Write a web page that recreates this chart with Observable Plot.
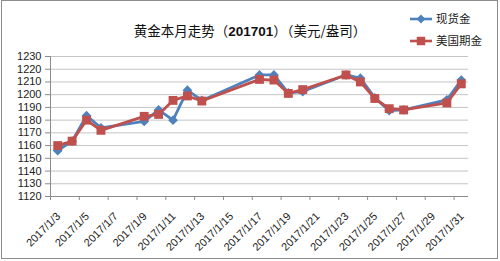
<!DOCTYPE html>
<html><head><meta charset="utf-8">
<script src="https://cdn.jsdelivr.net/npm/d3@7"></script>
<script src="https://cdn.jsdelivr.net/npm/@observablehq/plot@0.6"></script>
<style>body{margin:0;background:#fff}</style>
</head><body><div id="chart"></div>
<script>
const dates = ["2017-01-03","2017-01-04","2017-01-05","2017-01-06","2017-01-09","2017-01-10","2017-01-11","2017-01-12","2017-01-13","2017-01-17","2017-01-18","2017-01-19","2017-01-20","2017-01-23","2017-01-24","2017-01-25","2017-01-26","2017-01-27","2017-01-30","2017-01-31"];
const spot = [1156,1163.5,1183.5,1174,1179,1188,1180,1203.5,1195.5,1215.5,1215.5,1201.5,1202.5,1215.5,1213,1197.5,1187.5,1188,1196,1211.5];
const futures = [1160,1163.5,1180,1172,1183,1184.5,1195.5,1199,1195,1212,1211.5,1201,1204,1215.5,1210,1197,1189,1188,1193.5,1208.5];
const tickLabels = ["2017/1/3","2017/1/5","2017/1/7","2017/1/9","2017/1/11","2017/1/13","2017/1/15","2017/1/17","2017/1/19","2017/1/21","2017/1/23","2017/1/25","2017/1/27","2017/1/29","2017/1/31"];
const yTicks = [1120,1130,1140,1150,1160,1170,1180,1190,1200,1210,1220,1230];
const seriesNames = ["现货金","美国期金"];
const title = "黄金本月走势（201701）（美元/盎司）";

const blue = "#4F81BD", red = "#C0504D";
const HALF_DAY = 12*3600*1000;
const data = dates.map((d,i)=>({date:new Date(new Date(d+"T00:00:00Z").getTime()+HALF_DAY), spot:spot[i], futures:futures[i]}));
const parseLabel = s => { const [y,m,d] = s.split("/").map(Number); return new Date(Date.UTC(y,m-1,d)); };
const tickDates = tickLabels.map(parseLabel);
const axisFont = "'Liberation Sans', Arial, sans-serif";

const chart = Plot.plot({
  width: 500, height: 261,
  marginLeft: 50, marginRight: 32, marginTop: 56, marginBottom: 65,
  style: {fontFamily: axisFont, background: "#fff"},
  x: {type: "utc", domain: [new Date(Date.UTC(2017,0,3)), new Date(Date.UTC(2017,1,1))]},
  y: {domain: [1120, 1230]},
  marks: [
    Plot.gridY(yTicks.slice(1), {stroke: "#c4c4c4", strokeOpacity: 1, strokeWidth: 1}),
    Plot.ruleY([1120], {stroke: "#8c8c8c"}),
    Plot.ruleX([new Date(Date.UTC(2017,0,3))], {stroke: "#8c8c8c"}),
    Plot.axisY({ticks: yTicks, tickFormat: d => String(d), tickSize: 5, tickPadding: 4, stroke: "#8c8c8c", fontSize: 11, label: null, fill: "#222"}),
    Plot.axisX({ticks: tickDates, tickFormat: () => "", tickSize: 4, stroke: "#8c8c8c", label: null}),
    Plot.axisX({ticks: tickDates, tickFormat: (d,i)=>tickLabels[i], tickRotate: -45, tickSize: 0, tickPadding: 0, fill: "#222", fontSize: 11, label: null, dx: 8, dy: 18}),
    Plot.line(data, {x: "date", y: "spot", stroke: blue, strokeWidth: 2.8}),
    Plot.dot(data, {x: "date", y: "spot", symbol: "diamond2", fill: blue, r: 4.4}),
    Plot.line(data, {x: "date", y: "futures", stroke: red, strokeWidth: 2.8}),
    Plot.dot(data, {x: "date", y: "futures", symbol: "square", fill: red, r: 5})
  ]
});

const svg = d3.select(chart);
svg.append("rect").attr("x",1.5).attr("y",0.5).attr("width",496).attr("height",258)
  .attr("fill","none").attr("stroke","#8c8c8c");
const t = svg.append("text").attr("x",250).attr("y",36).attr("text-anchor","middle")
  .attr("font-size",13.5).attr("fill","#111")
  .attr("font-family","'Noto Sans CJK SC', 'Liberation Sans', sans-serif");
title.split(/(\d+)/).forEach(part => {
  if (!part) return;
  const ts = t.append("tspan").text(part);
  if (/^\d+$/.test(part)) ts.attr("font-weight","bold").attr("font-family","'Liberation Sans', sans-serif");
});
// legend
const leg = [{y:19, color:blue, sym:d3.symbolDiamond2, size:50},{y:41, color:red, sym:d3.symbolSquare, size:72}];
leg.forEach((l,i)=>{
  svg.append("line").attr("x1",410).attr("x2",432).attr("y1",l.y).attr("y2",l.y)
    .attr("stroke",l.color).attr("stroke-width",2.6);
  svg.append("path").attr("d", d3.symbol(l.sym, l.size)()).attr("transform",`translate(421,${l.y})`).attr("fill",l.color);
  svg.append("text").attr("x",436).attr("y",l.y).attr("dy","0.35em").attr("font-size",11.5)
    .attr("text-anchor","start")
    .attr("fill","#222").attr("font-family","'Noto Sans CJK SC', sans-serif").text(seriesNames[i]);
});
document.getElementById("chart").appendChild(chart);
</script>
</body></html>
